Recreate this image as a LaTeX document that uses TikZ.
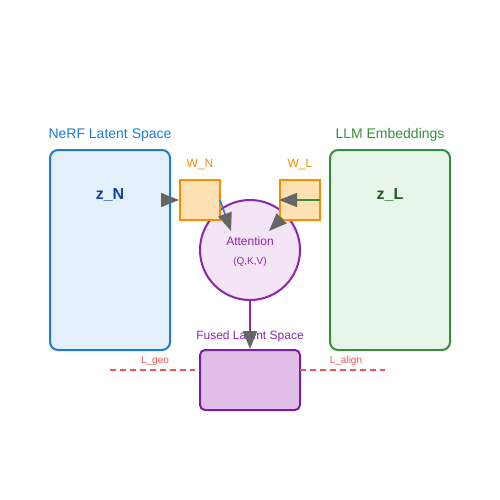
\documentclass[tikz,border=0pt]{standalone}
\usepackage{fontspec}
\setmainfont{Liberation Sans}
\usetikzlibrary{arrows.meta}
\definecolor{nerfblue}{HTML}{1E7BD6}
\definecolor{nerffill}{HTML}{E3F0FB}
\definecolor{nerfdark}{HTML}{0D47A1}
\definecolor{llmgreen}{HTML}{388E3C}
\definecolor{llmfill}{HTML}{E8F5E9}
\definecolor{llmdark}{HTML}{1B5E20}
\definecolor{worange}{HTML}{FB8C00}
\definecolor{wfill}{HTML}{FFE0B2}
\definecolor{attpurple}{HTML}{8E24AA}
\definecolor{attfill}{HTML}{F3E5F5}
\definecolor{fusedstroke}{HTML}{7B1FA2}
\definecolor{fusedfill}{HTML}{E1BEE7}
\definecolor{lossred}{HTML}{EF5350}
\definecolor{arrowgray}{HTML}{666666}
\tikzset{
  spacebox/.style={draw, line width=2pt, rounded corners=8pt, minimum width=120pt, minimum height=200pt, inner sep=0pt},
  wbox/.style={draw=worange, fill=wfill, line width=2pt, minimum width=40pt, minimum height=40pt, inner sep=0pt},
  arr/.style={line width=1.5pt, -{Triangle[length=18pt,width=14pt,color=arrowgray]}},
  lossline/.style={draw=lossred, line width=1.5pt, dash pattern=on 6pt off 4pt},
  f14/.style={font=\fontsize{14}{16}\selectfont},
  f12/.style={font=\fontsize{12}{14}\selectfont},
  f10/.style={font=\fontsize{10}{12}\selectfont},
  fbold/.style={font=\fontsize{16}{18}\selectfont\bfseries},
}
\begin{document}
\begin{tikzpicture}[x=1pt,y=-1pt]
\useasboundingbox (0,0) rectangle (500,500);
% spaces
\node[spacebox, draw=nerfblue, fill=nerffill] (nerf) at (110,250) {};
\node[spacebox, draw=llmgreen, fill=llmfill] (llm) at (390,250) {};
\node[f14, text=nerfblue] (nerft) at (110,135) {NeRF Latent Space};
\node[f14, text=llmgreen] (llmt) at (390,135) {LLM Embeddings};
\node[fbold, text=nerfdark] (zn) at (110,195) {z\_N};
\node[fbold, text=llmdark] (zl) at (390,195) {z\_L};
% attention
\node[circle, draw=attpurple, fill=attfill, line width=2pt, minimum size=100pt, inner sep=0pt] (att) at (250,250) {};
\node[f12, text=attpurple] (attt) at (250,241) {Attention};
\node[f10, text=attpurple] (qkv) at (250,262) {(Q,K,V)};
% projection boxes
\node[wbox] (wn) at (200,200) {};
\node[wbox] (wl) at (300,200) {};
\node[f12, text=worange] (wnt) at (200,165) {W\_N};
\node[f12, text=worange] (wlt) at (300,165) {W\_L};
% fused
\node[draw=fusedstroke, fill=fusedfill, line width=2pt, rounded corners=5pt, minimum width=100pt, minimum height=60pt, inner sep=0pt] (fused) at (250,380) {};
\node[f12, text=attpurple] (fusedt) at (250,336) {Fused Latent Space};
% loss lines
\coordinate (lgeoA) at (110,370);
\coordinate (lgeoB) at (195,370);
\coordinate (lalA) at (300,370);
\coordinate (lalB) at (385,370);
\draw[lossline] (lgeoA) -- (lgeoB);
\draw[lossline] (lalA) -- (lalB);
\node[f10, text=lossred] (lgeo) at (155,361) {L\_geo};
\node[f10, text=lossred] (lal) at (346,361) {L\_align};
% connectors
\coordinate (nerfout) at (170,200);
\coordinate (llmout) at (320,200);
\coordinate (wnout) at (220,200);
\coordinate (attinN) at (231,231);
\coordinate (wlout) at (282,218);
\coordinate (attinL) at (269,231);
\draw[arr, draw=nerfblue] (nerfout) -- (wn.west);
\draw[arr, draw=llmgreen] (llmout) -- (wl.west);
\draw[arr, draw=nerfblue] (wnout) -- (attinN);
\draw[arr, draw=llmgreen] (wlout) -- (attinL);
\draw[arr, draw=attpurple] (att.south) -- (fused.north);
\end{tikzpicture}
\end{document}
